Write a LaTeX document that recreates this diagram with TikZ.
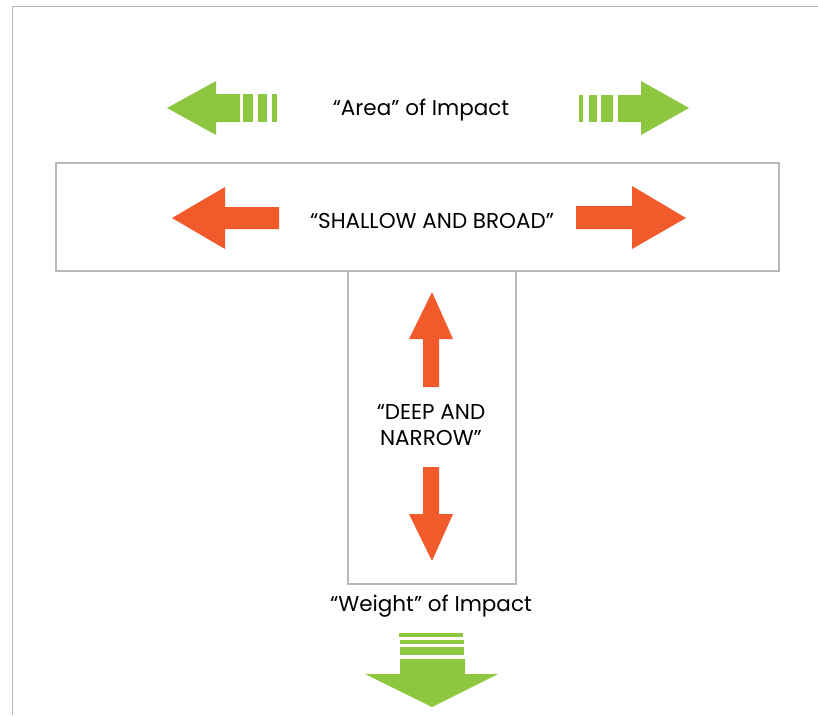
\documentclass[tikz,border=0pt]{standalone}
\usepackage{fontspec}
\setmainfont{Poppins}
\definecolor{agreen}{HTML}{8DC63F}
\definecolor{aorange}{HTML}{F15A2B}
\definecolor{frame}{HTML}{B8B8BA}
\begin{document}
\begin{tikzpicture}[x=1pt,y=-1pt,
  greenfill/.style={fill=agreen,draw=none},
  orangefill/.style={fill=aorange,draw=none},
  boxline/.style={draw=frame,line width=1.6pt},
  label/.style={font=\fontsize{21.5}{26}\selectfont,text=black,inner sep=0pt,align=center}]
\useasboundingbox (0,0) rectangle (818,715);
% outer frame
\draw[boxline] (12.5,715) -- (12.5,6.5) -- (818,6.5);
% boxes
\node[boxline,minimum width=723pt,minimum height=108pt,inner sep=0pt,anchor=north west] (shallow) at (55,162) {};
\node[boxline,minimum width=168pt,minimum height=313pt,inner sep=0pt,anchor=north west] (deep) at (347,270) {};
% labels
\node[label] (area) at (421,110) {“Area” of Impact};
\node[label] (sb) at (432,221) {“SHALLOW AND BROAD”};
\node[label] (dn) at (431,425) {“DEEP AND\\NARROW”};
\node[label] (weight) at (431,606) {“Weight” of Impact};
% green left arrow
\fill[greenfill] (167,108) -- (216,81) -- (216,94) -- (240,94) -- (240,122) -- (216,122) -- (216,135) -- cycle;
\fill[greenfill] (243,94) rectangle (253,122);
\fill[greenfill] (258,94) rectangle (267,122);
\fill[greenfill] (272,94) rectangle (277,122);
% green right arrow
\fill[greenfill] (689,108) -- (641,81) -- (641,95) -- (618,95) -- (618,122) -- (641,122) -- (641,135) -- cycle;
\fill[greenfill] (601,95) rectangle (613,122);
\fill[greenfill] (589,95) rectangle (597,122);
\fill[greenfill] (579,95) rectangle (583,122);
% orange left/right
\fill[orangefill] (172,218) -- (225,187) -- (225,207) -- (279,207) -- (279,229) -- (225,229) -- (225,249) -- cycle;
\fill[orangefill] (686,218) -- (632,186) -- (632,206) -- (576,206) -- (576,229) -- (632,229) -- (632,249) -- cycle;
% orange up/down
\fill[orangefill] (432,292) -- (453,339) -- (439,339) -- (439,387) -- (423,387) -- (423,339) -- (409,339) -- cycle;
\fill[orangefill] (432,561) -- (453,514) -- (439,514) -- (439,467) -- (423,467) -- (423,514) -- (409,514) -- cycle;
% bottom green arrow
\fill[greenfill] (399,633) rectangle (463,637);
\fill[greenfill] (400,640) rectangle (464,644);
\fill[greenfill] (400,647) rectangle (464,655);
\fill[greenfill] (432,707) -- (498,674) -- (465,674) -- (465,659) -- (400,659) -- (400,674) -- (365,674) -- cycle;
\end{tikzpicture}
\end{document}
